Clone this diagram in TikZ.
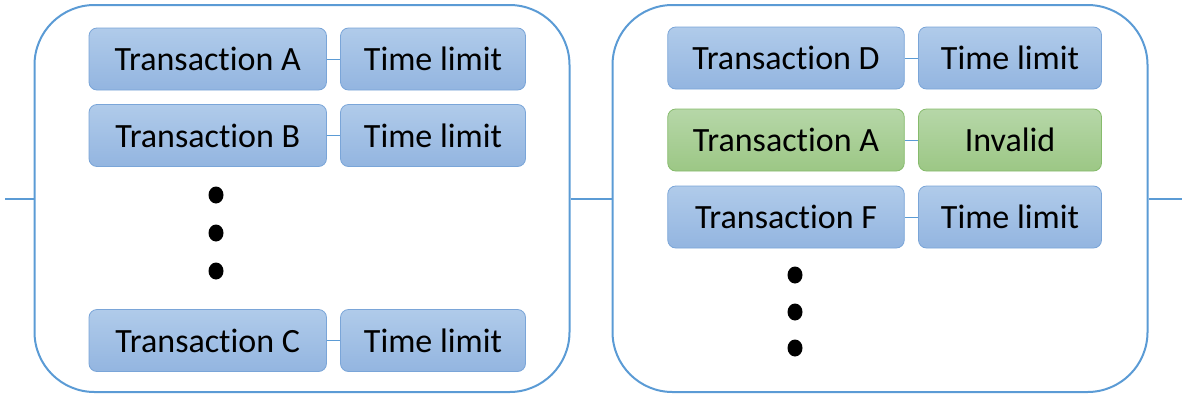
\documentclass[tikz,border=0pt]{standalone}
\usepackage{fontspec}
\setmainfont[Ligatures=NoCommon]{Carlito}
\definecolor{blkline}{HTML}{5B9BD5}
\definecolor{txtop}{HTML}{B0CBEA}
\definecolor{txbot}{HTML}{93B5E0}
\definecolor{txline}{HTML}{7AA5D8}
\definecolor{oktop}{HTML}{B6D7A8}
\definecolor{okbot}{HTML}{9CC785}
\definecolor{okline}{HTML}{86BB6C}
\tikzset{
  block/.style={draw=blkline,line width=2pt,rounded corners=60pt,minimum width=535pt,minimum height=387pt},
  txbox/.style={draw=txline,line width=.8pt,top color=txtop,bottom color=txbot,rounded corners=8pt,minimum height=62pt,inner sep=0pt},
  okbox/.style={txbox,draw=okline,top color=oktop,bottom color=okbot},
  conn/.style={draw=blkline,line width=1pt},
  chain/.style={draw=blkline,line width=2pt}
}
\begin{document}
\begin{tikzpicture}[x=1pt,y=-1pt,font=\fontsize{34}{40}\selectfont]
\useasboundingbox (0,0) rectangle (1182,394);
% the two blocks and the line through them
\node[block] (blkL) at (302,198.5){};\node[block] (blkR) at (880,198.5){};
\coordinate (inL) at (5,198.5);\coordinate (outR) at (1182,198.5);
\draw[chain] (inL)--(blkL.west);\draw[chain] (blkL.east)--(blkR.west);\draw[chain] (blkR.east)--(outR);
% left block
\foreach \y/\t in {59/A,135.5/B,340.5/C}{\node[txbox,minimum width=237.5pt] (txL\t) at (207.75,\y){Transaction \t};\node[txbox,minimum width=185pt] (tlL\t) at (433,\y){Time limit};\draw[conn] (txL\t)--(tlL\t);}
\foreach \y in {195,233,271}{\fill (216,\y) ellipse (7.5pt and 8.5pt);}
% right block
\foreach \y/\t in {58/D,217/F}{\node[txbox,minimum width=236.5pt] (txR\t) at (786,\y){Transaction \t};\node[txbox,minimum width=183pt] (tlR\t) at (1010,\y){Time limit};\draw[conn] (txR\t)--(tlR\t);}
\node[okbox,minimum width=236.5pt] (txRA) at (786,140){Transaction A};\node[okbox,minimum width=183pt] (tlRA) at (1010,140){Invalid};\draw[conn] (txRA)--(tlRA);
\foreach \y in {275,312,348}{\fill (795,\y) ellipse (7.5pt and 8.5pt);}
\end{tikzpicture}
\end{document}
